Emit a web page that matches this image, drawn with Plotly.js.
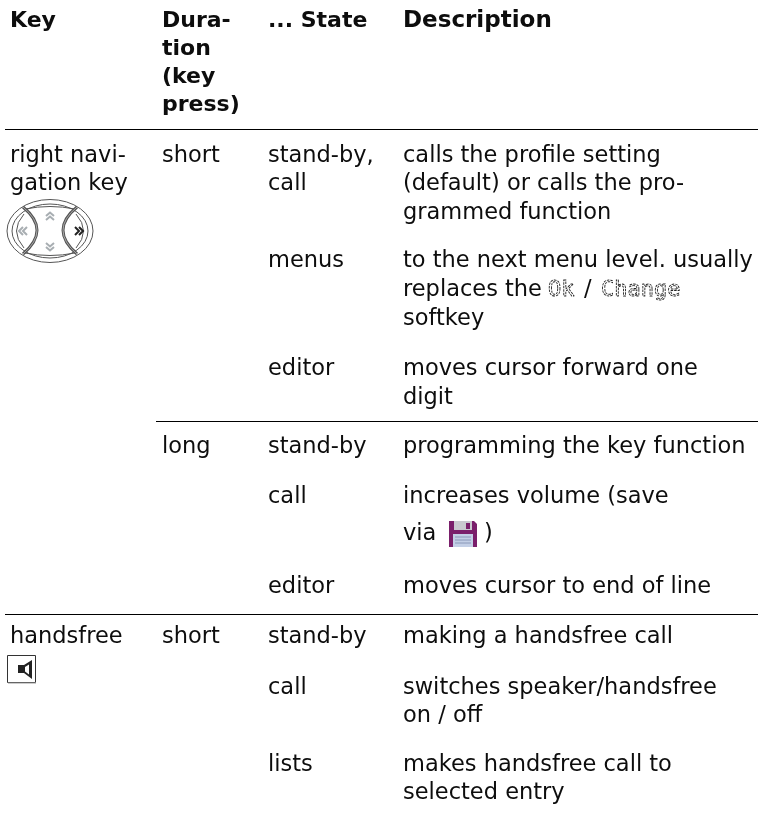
<!DOCTYPE html>
<html><head><meta charset="utf-8">
<script src="https://cdn.plot.ly/plotly-3.0.1.min.js"></script>
<style>html,body{margin:0;padding:0;background:#fff}#c{width:758px;height:815px}.scatterlayer{opacity:.995}</style>
</head><body><div id="c"></div>
<script>
const headerKey = ["Key"];
const headerDuration = ["Dura-", "tion", "(key", "press)"];
const headerState = ["... State"];
const headerDescription = ["Description"];
const keyLines = ["right navi-", "gation key", "handsfree"];
const durationLines = ["short", "long", "short"];
const stateLines = ["stand-by,", "call", "menus", "editor", "stand-by", "call", "editor", "stand-by", "call", "lists"];
const descriptionLines = ["calls the profile setting", "(default) or calls the pro-", "grammed function",
  "to the next menu level. usually", "replaces the", "softkey", "moves cursor forward one", "digit",
  "programming the key function", "increases volume (save", "via", "moves cursor to end of line",
  "making a handsfree call", "switches speaker/handsfree", "on / off", "makes handsfree call to", "selected entry"];
const softkeyLabels = ["Ok", "Change"];
const softkeySeparator = ["/"];
const closeParen = [")"];

// layout positions, in pixels of the page
const colX = {key: 10, duration: 162, state: 268, desc: 403};
const headerDurationY = [21, 49, 77, 105];
const keyY = [156, 184, 637];
const durationY = [156, 447, 637];
const stateY = [156, 184, 261, 369, 447, 497, 587, 637, 688, 765];
const descY = [156, 184, 213, 261, 290, 319, 369, 398, 447, 497, 534, 587, 637, 688, 716, 765, 793];
const font = "DejaVu Sans, Verdana, sans-serif";
const size = 22.5, boldSize = 22;

function col(text, x, y, bold, fontSize) {
  return {type: "scatter", mode: "text", x: text.map(() => x), y: y, text: text,
    textposition: "middle right", cliponaxis: false, hoverinfo: "skip",
    textfont: {family: font, size: fontSize || (bold ? boldSize : size), color: "#0c0c0c", weight: bold ? 700 : 400}};
}
const traces = [
  col(headerKey, colX.key, [21], true),
  col(headerDuration, colX.duration, headerDurationY, true),
  col(headerState, colX.state, [21], true),
  col(headerDescription, colX.desc, [21], true, 23),
  col(keyLines, colX.key, keyY),
  col(durationLines, colX.duration, durationY),
  col(stateLines, colX.state, stateY),
  col(descriptionLines, colX.desc, descY),
  col(softkeySeparator, 584, [290]),
  col(closeParen, 484, [534]),
  {type: "scatter", mode: "text", x: [548, 601], y: [290, 290], text: softkeyLabels, name: "lcd",
   textposition: "middle right", cliponaxis: false, hoverinfo: "skip",
   textfont: {family: "DejaVu Sans Mono, monospace", size: 22, color: "#333"}}
];

function line(x0, x1, y) {
  return {type: "line", xref: "x", yref: "y", x0, x1, y0: y, y1: y, line: {color: "#000", width: 1}};
}
function p(d, stroke, w, fill) {
  return {type: "path", xref: "x", yref: "y", path: d, line: {color: stroke || "rgba(0,0,0,0)", width: w === undefined ? 1 : w}, fillcolor: fill || "rgba(0,0,0,0)"};
}
function ell(cx, cy, rx, ry, stroke, w) {
  return {type: "circle", xref: "x", yref: "y", x0: cx - rx, x1: cx + rx, y0: cy - ry, y1: cy + ry, line: {color: stroke, width: w}};
}
const g = "#555", lg = "#a8aeb2";
const shapes = [
  line(5, 758, 129.5), line(156, 758, 421.5), line(5, 758, 614.5),
  // navigation key icon
  ell(50, 231, 43, 31.5, g, 1),
  ell(50, 231, 38, 27, g, 1),
  p("M 25 209 Q 50 204 75 209", g, 1),
  p("M 25 253 Q 50 258 75 253", g, 1),
  p("M 24 214 Q 9 231 24 248", g, 1),
  p("M 76 214 Q 91 231 76 248", g, 1),
  p("M 23 207 Q 51 230 23 254", "#555", 3),
  p("M 77 207 Q 49 230 77 254", "#555", 3),
  p("M 23 207 Q 51 230 23 254", "#ccc", 0.7),
  p("M 77 207 Q 49 230 77 254", "#ccc", 0.7),
  p("M 46 216 L 50 212.5 L 54 216 M 46 220 L 50 216.5 L 54 220", lg, 2),
  p("M 46 243 L 50 246.5 L 54 243 M 46 247 L 50 250.5 L 54 247", lg, 2),
  p("M 23 227 L 19 231 L 23 235 M 27 227 L 23 231 L 27 235", lg, 2),
  p("M 75 227 L 79 231 L 75 235 M 79 227 L 83 231 L 79 235", "#222", 2),
  // floppy icon
  p("M 449 521 L 474 521 L 477 524 L 477 547 L 449 547 Z", "#7a1f6b", 0, "#7a1f6b"),
  p("M 454 521 L 472 521 L 472 530 L 454 530 Z", "#8f8f96", 0, "#c9c9cf"),
  p("M 466 523 L 470 523 L 470 529 L 466 529 Z", "#7a1f6b", 0, "#7a1f6b"),
  p("M 453 534 L 473 534 L 473 547 L 453 547 Z", "#a9b9d8", 0, "#c3cfe6"),
  p("M 455 537 L 471 537 M 455 540 L 471 540 M 455 543 L 471 543", "#8a98b8", 1),
  // speaker icon
  p("M 7.5 655.5 L 35.5 655.5 L 35.5 682.5 L 7.5 682.5 Z", "#333", 1),
  p("M 8 683 L 36 683", "#999", 1),
  p("M 18 665 L 24 665 L 32 660 L 32 679 L 24 673 L 18 673 Z", "#222", 0, "#222"),
  p("M 25 667 L 29 664.5 L 29 674.5 L 25 671.5 Z", "#fff", 0, "#fff")
];

const layout = {
  width: 758, height: 815, margin: {l: 0, r: 0, t: 0, b: 0}, showlegend: false,
  paper_bgcolor: "#fff", plot_bgcolor: "#fff",
  xaxis: {range: [0, 758], visible: false, fixedrange: true},
  yaxis: {range: [815, 0], visible: false, fixedrange: true},
  shapes: shapes
};
Plotly.newPlot("c", traces, layout, {displayModeBar: false, staticPlot: true}).then(() => {
  document.querySelectorAll(".scatterlayer .trace:last-child text").forEach(t => {
    t.style.fill = "none"; t.style.stroke = "#222"; t.style.strokeWidth = "0.9px"; t.style.strokeDasharray = "2.5 1";
  });
});
</script></body></html>
